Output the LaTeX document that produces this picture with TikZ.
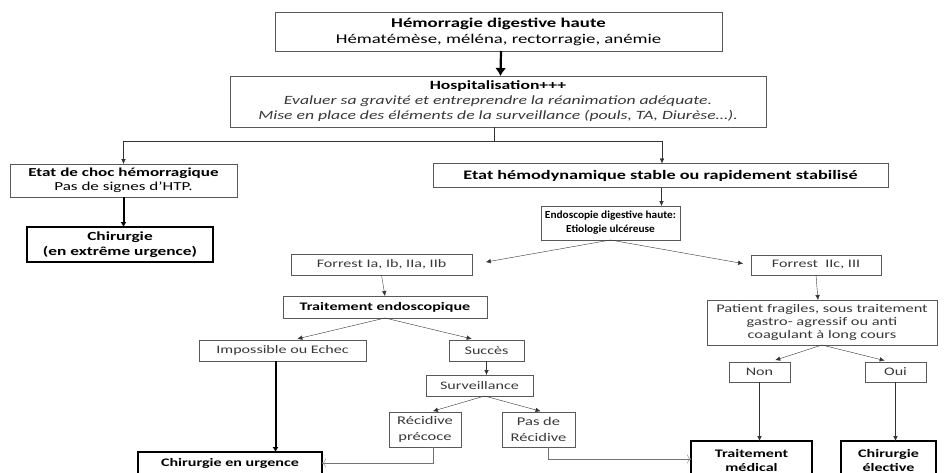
\documentclass[tikz,border=0pt]{standalone}
\usepackage{fontspec}
\setmainfont{Carlito}[FakeStretch=1.4]
\newfontfamily\narrowfont{Carlito}[FakeStretch=1.05]
\usepackage{tikz}
\usetikzlibrary{arrows.meta}

\begin{document}
\begin{tikzpicture}[x=1pt, y=-1pt,
  box/.style={draw=black!65, rectangle, align=center, inner sep=0pt, outer sep=0pt,
    text=black!78, font=\fontsize{11.5}{14}\selectfont},
  bbox/.style={box, text=black, font=\fontsize{11.5}{14}\selectfont\bfseries},
  endbox/.style={bbox, draw=black, line width=1.8pt},
  arr/.style={draw=black!80, -{Latex[length=5pt, width=4.5pt]}},
  bigarr/.style={draw=black, line width=2pt, -{Latex[length=5pt, width=6pt]}},
  backarr/.style={draw=black!55, -{To[length=4pt, width=9pt]}}]

  % Page
  \useasboundingbox (0,0) rectangle (946,472);
  \clip (0,0) rectangle (946,472);

  % Admission
  \node[box, text=black, minimum width=447pt, minimum height=39pt, font=\fontsize{13.4}{16}\selectfont] (hdh) at (498.5,31.5)
    {\textbf{Hémorragie digestive haute}\\Hématémèse,\ méléna,\ rectorragie,\ anémie};
  \node[box, minimum width=536pt, minimum height=51pt, font=\fontsize{12.6}{15}\selectfont] (hosp) at (498,101.5)
    {\textcolor{black}{\textbf{Hospitalisation+++}}\\
     \itshape Evaluer sa gravité et entreprendre la réanimation adéquate.\\
     \itshape Mise en place des éléments de la surveillance (pouls, TA, Diurèse…).};

  % Hemodynamic state
  \node[box, text=black, minimum width=227pt, minimum height=33pt, font=\fontsize{12.2}{14.5}\selectfont] (choc) at (123.5,180.5)
    {\textbf{Etat de choc hémorragique}\\Pas de signes d’HTP.};
  \node[endbox, minimum width=186pt, minimum height=35pt, font=\fontsize{12.4}{15}\selectfont\bfseries] (chir1) at (120,244.5)
    {Chirurgie\\(en extrême urgence)};
  \node[bbox, minimum width=455pt, minimum height=24pt, font=\fontsize{13}{15}\selectfont\bfseries] (stable) at (660.5,175.5)
    {Etat hémodynamique stable ou rapidement stabilisé};
  \node[bbox, minimum width=139pt, minimum height=34pt, font=\narrowfont\fontsize{10.8}{14}\selectfont\bfseries] (endo) at (610.5,223)
    {Endoscopie digestive haute:\\Etiologie ulcéreuse};

  % Forrest Ia to IIb
  \node[box, minimum width=181pt, minimum height=21pt] (fa) at (381.5,264.5) {Forrest Ia, Ib, IIa, IIb};
  \node[bbox, minimum width=204pt, minimum height=22pt] (tendo) at (385,307) {Traitement endoscopique};
  \node[box, minimum width=167pt, minimum height=21pt] (echec) at (282.5,350.5) {Impossible ou Echec};
  \node[box, minimum width=75pt, minimum height=21pt] (succes) at (486.5,350.5) {Succès};
  \node[box, minimum width=107pt, minimum height=21pt] (surv) at (479.5,385.5) {Surveillance};
  \node[box, minimum width=72pt, minimum height=35pt, font=\fontsize{11.8}{15.5}\selectfont] (recid) at (425,429.5) {Récidive\\précoce};
  \node[box, minimum width=73pt, minimum height=35pt, font=\fontsize{11.8}{15.5}\selectfont] (norecid) at (538.5,429.5) {Pas de\\Récidive};
  \node[endbox, minimum width=184pt, minimum height=22pt] (churg) at (230,463) {Chirurgie en urgence};

  % Forrest IIc, III
  \node[box, minimum width=130pt, minimum height=20pt] (fc) at (816,265) {Forrest\ \ IIc, III};
  \node[box, minimum width=230pt, minimum height=45pt, font=\fontsize{11.7}{12.8}\selectfont] (fragile) at (822,322.5)
    {Patient fragiles, sous traitement\\gastro- agressif ou anti\\coagulant à long cours};
  \node[box, minimum width=61pt, minimum height=20pt] (non) at (759.5,372) {Non};
  \node[box, minimum width=61pt, minimum height=20pt] (oui) at (895.5,372) {Oui};
  \node[endbox, minimum width=121pt, minimum height=40pt, font=\fontsize{11.5}{14}\selectfont\bfseries] (tmed) at (751.5,461) {Traitement\\médical};
  \node[endbox, minimum width=95pt, minimum height=40pt, font=\fontsize{11.5}{14}\selectfont\bfseries] (chel) at (888.5,461) {Chirurgie\\élective};

  % Connectors
  \draw[draw=black, line width=2.2pt, -{Latex[length=8pt, width=11pt]}] ([xshift=2.5pt]hdh.south) -- ([xshift=2.5pt]hosp.north);
  \draw[draw=black!80] ([xshift=-4pt]hosp.south) -- ++(0,14) coordinate (split);
  \draw[arr] (split) -| (choc.north);
  \draw[arr] (split) -| ([xshift=1.5pt]stable.north);
  \draw[bigarr] (choc.south) -- (choc.south |- chir1.north);
  \draw[arr] ([xshift=1pt]stable.south) -- ([xshift=1pt]stable.south |- endo.north);
  \draw[arr, shorten >=14pt] (endo.south) -- (fa.east);
  \draw[arr, shorten >=8pt] (endo.south) -- (fc.west);
  \draw[arr] (fa.south) -- (tendo.north);
  \draw[arr, shorten >=5pt] (tendo.south) -- ([xshift=10pt]echec.north);
  \draw[arr, shorten >=5pt] (tendo.south) -- ([xshift=-10pt]succes.north);
  \draw[bigarr] ([xshift=-7pt]echec.south) -- ([xshift=-7pt]echec.south |- churg.north);
  \draw[arr] (succes.south) -- (succes.south |- surv.north);
  \draw[arr, shorten >=3pt] ([xshift=5pt]surv.south) -- ([xshift=5pt]recid.north);
  \draw[arr, shorten >=3pt] ([xshift=5pt]surv.south) -- ([xshift=5pt]norecid.north);
  \draw[backarr] ([xshift=8pt]recid.south) |- (churg.east);
  \draw[backarr] ([xshift=10pt]norecid.south) |- ([yshift=2pt]tmed.west);
  \draw[arr] (fc.south) -- ([xshift=-4pt]fragile.north);
  \draw[arr, shorten >=6pt] (fragile.south) -- ([xshift=10pt]non.north);
  \draw[arr, shorten >=6pt] (fragile.south) -- ([xshift=-5pt]oui.north);
  \draw[arr] (non.south) -- (non.south |- tmed.north);
  \draw[arr] (oui.south) -- (oui.south |- chel.north);

\end{tikzpicture}
\end{document}
